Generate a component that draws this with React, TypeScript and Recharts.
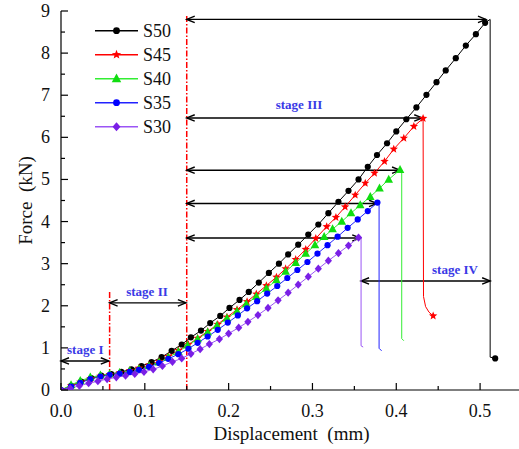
import React from 'react';
import { LineChart, Line, XAxis, YAxis, ReferenceLine, ReferenceDot, Label } from 'recharts';

const FONT = "'Liberation Serif', 'Times New Roman', Times, 'DejaVu Serif', serif";

// ---- data: [displacement (mm), force (kN)] marked points ----
const s50Main: [number, number][] = [
  [0, 0], [0.012, 0.10], [0.024, 0.20], [0.036, 0.28], [0.048, 0.34], [0.060, 0.38], [0.072, 0.43], [0.084, 0.49],
  [0.096, 0.57], [0.108, 0.66], [0.120, 0.78], [0.132, 0.93], [0.144, 1.08], [0.155, 1.25], [0.167, 1.41], [0.178, 1.59],
  [0.190, 1.76], [0.201, 1.95], [0.213, 2.14], [0.224, 2.33], [0.236, 2.55], [0.248, 2.78], [0.260, 3.00], [0.271, 3.22],
  [0.283, 3.45], [0.295, 3.69], [0.307, 3.93], [0.319, 4.20], [0.331, 4.47], [0.343, 4.73], [0.355, 5.00], [0.366, 5.30],
  [0.377, 5.58], [0.389, 5.86], [0.400, 6.14], [0.412, 6.43], [0.424, 6.71], [0.436, 7.01], [0.448, 7.31], [0.459, 7.59],
  [0.471, 7.88], [0.483, 8.18], [0.495, 8.45], [0.506, 8.72],
];
// tails after failure: [d, F, marker(1) / no marker(0)]
const s50Tail: [number, number, number][] = [[0.512, 8.80, 0], [0.512, 0.78, 0], [0.518, 0.75, 1]];

const s45Main: [number, number][] = [
  [0, 0], [0.012, 0.10], [0.023, 0.19], [0.035, 0.27], [0.047, 0.33], [0.058, 0.37], [0.070, 0.41], [0.082, 0.46],
  [0.093, 0.52], [0.105, 0.59], [0.117, 0.68], [0.128, 0.80], [0.140, 0.94], [0.152, 1.08], [0.163, 1.23], [0.175, 1.39],
  [0.187, 1.56], [0.198, 1.73], [0.210, 1.91], [0.222, 2.10], [0.233, 2.28], [0.245, 2.48], [0.257, 2.68], [0.268, 2.88],
  [0.280, 3.10], [0.292, 3.34], [0.304, 3.60], [0.317, 3.88], [0.328, 4.10], [0.339, 4.35], [0.351, 4.63], [0.363, 4.91],
  [0.374, 5.15], [0.386, 5.43], [0.397, 5.72], [0.409, 5.98], [0.421, 6.26], [0.432, 6.45],
];
const s45Tail: [number, number, number][] = [[0.4325, 2.22, 0], [0.435, 1.98, 0], [0.439, 1.85, 0], [0.444, 1.76, 1]];

const s40Main: [number, number][] = [
  [0, 0], [0.012, 0.12], [0.023, 0.22], [0.035, 0.30], [0.047, 0.35], [0.058, 0.38], [0.070, 0.41], [0.082, 0.45],
  [0.093, 0.50], [0.105, 0.57], [0.117, 0.66], [0.128, 0.77], [0.140, 0.91], [0.151, 1.06], [0.163, 1.21], [0.175, 1.37],
  [0.186, 1.53], [0.198, 1.70], [0.210, 1.87], [0.221, 2.04], [0.233, 2.22], [0.245, 2.41], [0.257, 2.61], [0.268, 2.81],
  [0.280, 3.02], [0.292, 3.24], [0.303, 3.44], [0.314, 3.64], [0.324, 3.82], [0.335, 4.00], [0.346, 4.20], [0.357, 4.39],
  [0.369, 4.59], [0.380, 4.79], [0.391, 5.00], [0.4045, 5.23],
];
const s40Tail: [number, number, number][] = [[0.4065, 5.22, 0], [0.4065, 1.22, 0], [0.409, 1.17, 0]];

const s35Main: [number, number][] = [
  [0, 0], [0.012, 0.08], [0.023, 0.17], [0.035, 0.26], [0.047, 0.32], [0.058, 0.36], [0.070, 0.39], [0.082, 0.43],
  [0.093, 0.48], [0.105, 0.55], [0.117, 0.64], [0.128, 0.74], [0.140, 0.85], [0.152, 0.98], [0.163, 1.12], [0.175, 1.27],
  [0.187, 1.43], [0.199, 1.60], [0.211, 1.77], [0.222, 1.94], [0.234, 2.11], [0.246, 2.29], [0.258, 2.47], [0.270, 2.66],
  [0.282, 2.85], [0.294, 3.04], [0.306, 3.24], [0.318, 3.44], [0.330, 3.64], [0.342, 3.85], [0.354, 4.05], [0.366, 4.25],
  [0.3775, 4.45],
];
const s35Tail: [number, number, number][] = [[0.3795, 4.45, 0], [0.3795, 0.99, 0], [0.3825, 0.93, 0]];

const s30Main: [number, number][] = [
  [0, 0], [0.011, 0.04], [0.022, 0.10], [0.033, 0.16], [0.044, 0.21], [0.055, 0.26], [0.066, 0.30], [0.077, 0.34],
  [0.088, 0.38], [0.099, 0.43], [0.110, 0.49], [0.121, 0.57], [0.133, 0.67], [0.144, 0.75], [0.155, 0.86], [0.166, 0.97],
  [0.177, 1.09], [0.189, 1.21], [0.200, 1.34], [0.212, 1.48], [0.223, 1.62], [0.235, 1.78], [0.247, 1.95], [0.259, 2.13],
  [0.271, 2.31], [0.283, 2.50], [0.295, 2.69], [0.307, 2.88], [0.319, 3.07], [0.331, 3.25], [0.343, 3.43], [0.355, 3.62],
];
const s30Tail: [number, number, number][] = [[0.358, 3.62, 0], [0.358, 1.05, 0], [0.3605, 1.02, 0]];

// stage arrows: [force level, from d, to d]
const stageArrows: [number, number, number][] = [
  [8.80, 0.150, 0.507], [6.46, 0.150, 0.431], [5.22, 0.150, 0.4045], [4.43, 0.150, 0.377], [3.61, 0.150, 0.357],
  [2.59, 0.358, 0.512], [2.07, 0.058, 0.149], [0.69, 0.0, 0.057],
];
// stage boundary lines: [d, top force]
const stageBounds: [number, number][] = [[0.058, 2.35], [0.150, 8.9]];
// stage labels: [text, d, F]
const stageLabels: [string, number, number][] = [
  ['stage I', 0.029, 0.97], ['stage II', 0.1026, 2.35], ['stage III', 0.284, 6.77], ['stage IV', 0.470, 2.85],
];

const xTicks = [0, 0.05, 0.1, 0.15, 0.2, 0.25, 0.3, 0.35, 0.4, 0.45, 0.5, 0.55];
const yTicks = [0, 0.5, 1, 1.5, 2, 2.5, 3, 3.5, 4, 4.5, 5, 5.5, 6, 6.5, 7, 7.5, 8, 8.5, 9];

type Shape = 'circle' | 'star' | 'triangle' | 'diamond';
const build = (main: [number, number][], tail: [number, number, number][]) => [
  ...main.map(([d, F]) => ({ d, F, m: 1 })),
  ...tail.map(([d, F, m]) => ({ d, F, m })),
];

const series: { name: string; data: any[]; stroke: string; fill: string; shape: Shape }[] = [
  { name: 'S50', data: build(s50Main, s50Tail), stroke: '#000000', fill: '#000000', shape: 'circle' },
  { name: 'S45', data: build(s45Main, s45Tail), stroke: '#ff0000', fill: '#ff0000', shape: 'star' },
  { name: 'S40', data: build(s40Main, s40Tail), stroke: '#33ee33', fill: '#11dd11', shape: 'triangle' },
  { name: 'S35', data: build(s35Main, s35Tail), stroke: '#2222ff', fill: '#0000ff', shape: 'circle' },
  { name: 'S30', data: build(s30Main, s30Tail), stroke: '#9b55f5', fill: '#7a1fe6', shape: 'diamond' },
];

function markerEl(shape: Shape, x: number, y: number, fill: string, key?: string, k = 1) {
  if (shape === 'circle') return <circle key={key} cx={x} cy={y} r={3.1 * k} fill={fill} />;
  if (shape === 'triangle')
    return (
      <polygon key={key} points={`${x},${y - 4.8 * k} ${x - 4.3 * k},${y + 3.2 * k} ${x + 4.3 * k},${y + 3.2 * k}`} fill={fill} />
    );
  if (shape === 'diamond')
    return (
      <polygon key={key} points={`${x},${y - 4.1 * k} ${x + 3.6 * k},${y} ${x},${y + 4.1 * k} ${x - 3.6 * k},${y}`} fill={fill} />
    );
  const pts: string[] = [];
  for (let i = 0; i < 10; i++) {
    const r = (i % 2 === 0 ? 4.4 : 1.9) * k;
    const a = -Math.PI / 2 + (i * Math.PI) / 5;
    pts.push(`${x + r * Math.cos(a)},${y + r * Math.sin(a)}`);
  }
  return <polygon key={key} points={pts.join(' ')} fill={fill} />;
}

const txt = (size: number, extra: any = {}) => ({ fontFamily: FONT, fontSize: size, ...extra });

const renderXTick = (p: any) => {
  const { x, y, payload, index } = p;
  const v = payload.value;
  const major = Math.abs(v * 10 - Math.round(v * 10)) < 1e-6;
  return (
    <g key={`xt-${index}`}>
      <line x1={x} x2={x} y1={y} y2={y - (major ? 7 : 4)} stroke="#000" strokeWidth={1.2} />
      {major && (
        <text x={x} y={y + 27} textAnchor="middle" fontFamily={FONT} fontSize={18} fill="#111" style={txt(18)}>
          {v.toFixed(1)}
        </text>
      )}
    </g>
  );
};

const renderYTick = (p: any) => {
  const { x, y, payload, index } = p;
  const v = payload.value;
  const major = Number.isInteger(v);
  return (
    <g key={`yt-${index}`}>
      <line x1={x} x2={x + (major ? 7 : 4)} y1={y} y2={y} stroke="#000" strokeWidth={1.2} />
      {major && (
        <text x={x - 11} y={y + 6} textAnchor="end" fontFamily={FONT} fontSize={18} fill="#111" style={txt(18)}>
          {String(v)}
        </text>
      )}
    </g>
  );
};

const XTitle = (p: any) => {
  const vb = p.viewBox;
  return (
    <text x={vb.x + vb.width / 2} y={vb.y + 50} textAnchor="middle" fontFamily={FONT} fontSize={19} fill="#111"
      style={txt(19, { whiteSpace: 'pre' })}>
      {'Displacement  (mm)'}
    </text>
  );
};

const YTitle = (p: any) => {
  const vb = p.viewBox;
  const cx = vb.x + 32;
  const cy = vb.y + vb.height / 2;
  return (
    <text x={cx} y={cy} transform={`rotate(-90, ${cx}, ${cy})`} textAnchor="middle" fontFamily={FONT} fontSize={19}
      fill="#111" style={txt(19, { whiteSpace: 'pre' })}>
      {'Force  (kN)'}
    </text>
  );
};

const ArrowShape = (p: any) => {
  const { x1, y1, x2, y2 } = p;
  const a = Math.min(x1, x2);
  const b = Math.max(x1, x2);
  const h = 8;
  const w = 3.2;
  return (
    <g>
      <line x1={a} y1={y1} x2={b} y2={y2} stroke="#000" strokeWidth={1.4} />
      <path d={`M${a + h},${y1 - w} L${a},${y1} L${a + h},${y1 + w}`} fill="none" stroke="#000" strokeWidth={1.4} />
      <path d={`M${b - h},${y2 - w} L${b},${y2} L${b - h},${y2 + w}`} fill="none" stroke="#000" strokeWidth={1.4} />
    </g>
  );
};

export default function App() {
  return (
    <div style={{ position: 'absolute', left: 0, top: 0, width: 519, height: 449, overflow: 'hidden', background: '#fff', fontFamily: FONT }}>
      <LineChart width={530} height={449} margin={{ top: 11, right: 8, left: 0, bottom: 0 }} style={{ fontFamily: FONT }}>
        <XAxis type="number" dataKey="d" domain={[0, 0.55]} ticks={xTicks} interval={0} tickSize={0} tickMargin={0}
          tickLine={false} axisLine={{ stroke: '#000', strokeWidth: 1.2 }} tick={renderXTick} height={59} allowDataOverflow>
          <Label content={XTitle} />
        </XAxis>
        <YAxis type="number" dataKey="F" domain={[0, 9]} ticks={yTicks} interval={0} tickSize={0} tickMargin={0}
          tickLine={false} axisLine={{ stroke: '#000', strokeWidth: 1.2 }} tick={renderYTick} width={61} allowDataOverflow>
          <Label content={YTitle} />
        </YAxis>
        {stageBounds.map(([d, top], i) => (
          <ReferenceLine key={`sb-${i}`} segment={[{ x: d, y: 0 }, { x: d, y: top }]} stroke="#ff0000" strokeWidth={1.5}
            strokeDasharray="6 2 1.5 2" />
        ))}
        {stageArrows.map(([F, a, b], i) => (
          <ReferenceLine key={`ar-${i}`} segment={[{ x: a, y: F }, { x: b, y: F }]} shape={ArrowShape} />
        ))}
        {stageLabels.map(([t, d, F], i) => (
          <ReferenceDot key={`sl-${i}`} x={d} y={F} r={0}
            shape={(p: any) => (
              <text x={p.cx} y={p.cy + 4.5} textAnchor="middle" fontFamily={FONT} fontSize={13} fontWeight="bold"
                fill="#3a3ae6" style={txt(13, { fontWeight: 'bold' })}>
                {t}
              </text>
            )}
          />
        ))}
        {series.map((s) => (
          <Line key={s.name} data={s.data} dataKey="F" type="linear" stroke={s.stroke} strokeWidth={1}
            isAnimationActive={false} activeDot={false}
            dot={(p: any) =>
              p.payload && p.payload.m ? markerEl(s.shape, p.cx, p.cy, s.fill, `${s.name}-d-${p.index}`) : <g key={`${s.name}-n-${p.index}`} />
            }
          />
        ))}
      </LineChart>
      <svg width={90} height={130} style={{ position: 'absolute', left: 95, top: 20 }}>
        {series.map((s, i) => {
          const cy = 10.7 + i * 24;
          return (
            <g key={s.name}>
              <line x1={0} x2={43} y1={cy} y2={cy} stroke={s.stroke} strokeWidth={1.6} />
              {markerEl(s.shape, 21.5, cy, s.fill, undefined, 1.1)}
              <text x={48} y={cy + 6} fontFamily={FONT} fontSize={18} fill="#111" style={txt(18)}>
                {s.name}
              </text>
            </g>
          );
        })}
      </svg>
    </div>
  );
}
